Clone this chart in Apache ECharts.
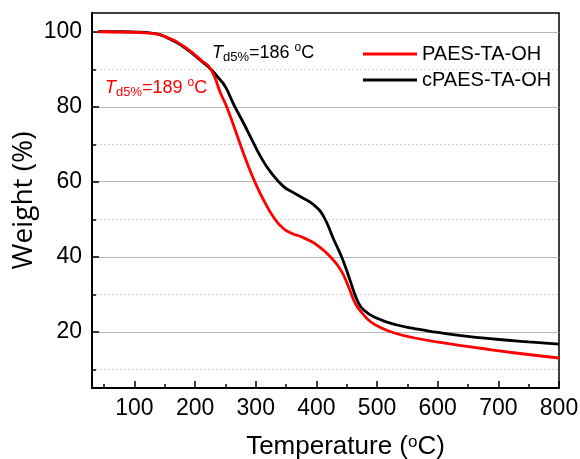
<!DOCTYPE html>
<html>
<head>
<meta charset="utf-8">
<script src="https://cdn.jsdelivr.net/npm/echarts@6/dist/echarts.min.js"></script>
<style>
  html, body { margin: 0; padding: 0; background: #fff; }
  #main { width: 580px; height: 459px; }
</style>
</head>
<body>
<div id="main"></div>
<script>
// TGA curves: [temperature (°C), weight (%)]
var paesTaOh = [
  [40, 100.0], [80, 99.9], [120, 99.7], [140, 99.3], [155, 98.4], [170, 97.3],
  [190, 95.1], [210, 92.4], [226, 90.0], [242, 83.6], [253, 79.6], [270, 72.0],
  [286, 64.9], [302, 58.7], [315, 54.5], [330, 50.4], [345, 47.6], [360, 46.2],
  [374, 45.4], [390, 44.2], [401, 43.1], [423, 40.0], [440, 36.5], [453, 32.0],
  [464, 27.6], [478, 24.5], [490, 22.6], [505, 21.2], [530, 19.6], [560, 18.4],
  [615, 16.9], [670, 15.6], [725, 14.4], [800, 13.0]
];
var cPaesTaOh = [
  [40, 100.1], [80, 100.0], [120, 99.8], [140, 99.3], [155, 98.3], [170, 97.1],
  [190, 94.9], [210, 92.2], [226, 90.0], [238, 87.8], [250, 85.3], [264, 80.5],
  [280, 75.6], [294, 71.1], [308, 66.7], [324, 62.7], [346, 58.7], [360, 57.3],
  [374, 56.0], [396, 53.8], [412, 50.7], [428, 44.8], [442, 39.8], [456, 33.5],
  [467, 28.5], [478, 25.8], [500, 23.6], [533, 21.8], [560, 20.9], [588, 20.1],
  [642, 18.9], [697, 18.0], [750, 17.3], [800, 16.7]
];
var seriesNames = ['PAES-TA-OH', 'cPAES-TA-OH'];

// axis ticks
var xMajor = [100, 200, 300, 400, 500, 600, 700, 800];
var xMinor = [50, 150, 250, 350, 450, 550, 650, 750];
var yMajor = [20, 40, 60, 80, 100];
var yMinor = [10, 30, 50, 70, 90];

var font = 'Liberation Sans, Arial, sans-serif';

function note(color) {
  return {
    t: { fontFamily: font, fontSize: 18, fontStyle: 'italic', lineHeight: 22, fill: color },
    s: { fontFamily: font, fontSize: 13, lineHeight: 12, verticalAlign: 'bottom', fill: color },
    n: { fontFamily: font, fontSize: 18, lineHeight: 22, fill: color },
    o: { fontFamily: font, fontSize: 12, lineHeight: 12, verticalAlign: 'top', fill: color }
  };
}

var chart = echarts.init(document.getElementById('main'));
chart.setOption({
  animation: false,
  grid: {
    left: 92, right: 21, top: 13, bottom: 71,
    outerBoundsMode: 'none', containLabel: false,
    show: true, borderColor: '#000', borderWidth: 1.5, backgroundColor: 'transparent'
  },
  legend: {
    data: seriesNames,
    orient: 'vertical',
    left: 363, top: 44, padding: 0,
    icon: 'rect',
    itemWidth: 54, itemHeight: 3, itemGap: 6,
    textStyle: { fontFamily: font, fontSize: 20, color: '#000' }
  },
  xAxis: [{
    type: 'value', min: 30, max: 800, position: 'bottom',
    name: 'Temperature ({sup|o}C)',
    nameLocation: 'middle', nameGap: 46, nameMoveOverlap: false,
    nameTextStyle: {
      fontFamily: font, fontSize: 26, color: '#000', padding: [0, 0, 0, 40],
      rich: { sup: { fontFamily: font, fontSize: 17, verticalAlign: 'top', color: '#000' } }
    },
    axisLine: { lineStyle: { color: '#000', width: 2 } },
    axisTick: { inside: true, length: 7, customValues: xMajor, lineStyle: { color: '#000', width: 1.5 } },
    axisLabel: { customValues: xMajor, margin: 9, fontFamily: font, fontSize: 23, color: '#000' },
    splitLine: { show: false }
  }, {
    type: 'value', min: 30, max: 800, position: 'bottom',
    axisLine: { show: false },
    axisTick: { inside: true, length: 4, customValues: xMinor, lineStyle: { color: '#000', width: 1.5 } },
    axisLabel: { show: false },
    splitLine: { show: false }
  }],
  yAxis: [{
    type: 'value', min: 5, max: 105, position: 'left',
    name: 'Weight (%)',
    nameLocation: 'middle', nameGap: 54, nameMoveOverlap: false,
    nameTextStyle: { fontFamily: 'Open Sans, sans-serif', fontSize: 28, color: '#000' },
    axisLine: { lineStyle: { color: '#000', width: 2 } },
    axisTick: { inside: true, length: 7, customValues: yMajor, lineStyle: { color: '#000', width: 1.5 } },
    axisLabel: { customValues: yMajor, margin: 10, fontFamily: font, fontSize: 23, color: '#000' },
    splitLine: { show: true, lineStyle: { color: '#b4b4b4', width: 1.2 } }
  }, {
    type: 'value', min: 5, max: 105, position: 'left',
    axisLine: { show: false },
    axisTick: { inside: true, length: 4, customValues: yMinor, lineStyle: { color: '#000', width: 1.5 } },
    axisLabel: { show: false },
    splitLine: { show: true, lineStyle: { color: '#d4d4d4', width: 1, type: [2, 2] } }
  }],
  graphic: [{
    type: 'text', x: 105, y: 77,
    style: {
      text: '{t|T}{s|d5%}{n|=189 }{o|o}{n|C}',
      fill: '#ff0000', align: 'left', verticalAlign: 'top',
      rich: note('#ff0000')
    }
  }, {
    type: 'text', x: 212, y: 42,
    style: {
      text: '{t|T}{s|d5%}{n|=186 }{o|o}{n|C}',
      fill: '#000', align: 'left', verticalAlign: 'top',
      rich: note('#000')
    }
  }],
  series: [{
    name: seriesNames[0], type: 'line', data: paesTaOh, z: 3,
    smooth: 0.5, showSymbol: false,
    itemStyle: { color: '#ff0000' },
    lineStyle: { color: '#ff0000', width: 2.8 }
  }, {
    name: seriesNames[1], type: 'line', data: cPaesTaOh, z: 2,
    smooth: 0.5, showSymbol: false,
    itemStyle: { color: '#000' },
    lineStyle: { color: '#000', width: 2.8 }
  }]
});
</script>
</body>
</html>
